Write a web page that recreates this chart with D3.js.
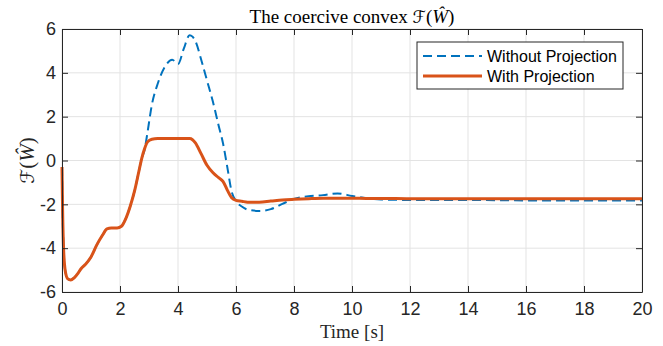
<!DOCTYPE html>
<html>
<head>
<meta charset="utf-8">
<script src="https://cdn.jsdelivr.net/npm/d3@7"></script>
<style>
  body { margin: 0; background: #fff; }
  svg { display: block; }
</style>
</head>
<body>
<div id="chart"></div>
<script>
// time samples [s]
const time = [0, 0.02, 0.06, 0.12, 0.2, 0.3, 0.42, 0.55, 0.65, 0.8, 1.0, 1.2, 1.4, 1.55, 1.7, 1.9,
  2.05, 2.2, 2.35, 2.5, 2.65, 2.75, 2.85, 2.95, 3.1, 3.3, 3.55, 3.8, 4.0, 4.2, 4.4, 4.5, 4.6,
  4.8, 5.0, 5.2, 5.4, 5.55, 5.7, 5.85, 6.0, 6.2, 6.4, 6.8, 7.2, 7.6, 8.0, 8.5, 9.0, 9.5, 10.0,
  10.5, 11, 12, 14, 16, 18, 20];

const withoutProjection = [-0.3, -2.2, -4.2, -5.1, -5.4, -5.45, -5.35, -5.15, -4.95, -4.75, -4.4,
  -3.85, -3.4, -3.12, -3.08, -3.08, -3.0, -2.65, -2.1, -1.4, -0.5, 0.1, 0.5, 1.3, 2.55, 3.5, 4.28,
  4.6, 4.4, 5.1, 5.72, 5.65, 5.45, 4.6, 3.65, 2.7, 1.6, 0.8, -0.3, -1.42, -1.85, -2.1, -2.24, -2.3,
  -2.22, -1.98, -1.75, -1.63, -1.58, -1.5, -1.62, -1.72, -1.78, -1.8, -1.8, -1.82, -1.82, -1.82];

const withProjection = [-0.3, -2.2, -4.2, -5.1, -5.4, -5.45, -5.35, -5.15, -4.95, -4.75, -4.4,
  -3.85, -3.4, -3.12, -3.08, -3.08, -3.0, -2.65, -2.1, -1.4, -0.5, 0.1, 0.55, 0.85, 0.97, 1.0, 1.0,
  1.0, 1.0, 1.0, 1.0, 0.95, 0.8, 0.3, -0.22, -0.55, -0.78, -0.95, -1.35, -1.7, -1.82, -1.86, -1.9,
  -1.9, -1.85, -1.8, -1.77, -1.74, -1.72, -1.72, -1.72, -1.73, -1.73, -1.74, -1.74, -1.75, -1.75, -1.75];

const xTicks = [0, 2, 4, 6, 8, 10, 12, 14, 16, 18, 20];
const yTicks = [-6, -4, -2, 0, 2, 4, 6];
const seriesNames = ["Without Projection", "With Projection"];

const width = 663, height = 346;
const margin = { top: 29, left: 62, bottom: 54, right: 21 };
const innerW = width - margin.left - margin.right;
const innerH = height - margin.top - margin.bottom;

const axisColor = "#262626";
const gridColor = "#e3e3e3";
const blue = "#0072BD", red = "#D95319";

const svg = d3.select("#chart").append("svg")
  .attr("width", width)
  .attr("height", height);

const g = svg.append("g")
  .attr("transform", `translate(${margin.left}, ${margin.top})`);

const xScale = d3.scaleLinear().domain([0, 20]).range([0, innerW]);
const yScale = d3.scaleLinear().domain([-6, 6]).range([innerH, 0]);

// grid
g.append("g").selectAll("line").data(xTicks).enter().append("line")
  .attr("x1", d => xScale(d)).attr("x2", d => xScale(d))
  .attr("y1", 0).attr("y2", innerH)
  .attr("stroke", gridColor).attr("stroke-width", 1);

g.append("g").selectAll("line").data(yTicks).enter().append("line")
  .attr("x1", 0).attr("x2", innerW)
  .attr("y1", d => yScale(d)).attr("y2", d => yScale(d))
  .attr("stroke", gridColor).attr("stroke-width", 1);

// curves
const points = (vals) => time.map((t, i) => [t, vals[i]]);
const line = d3.line()
  .x(d => xScale(d[0]))
  .y(d => yScale(d[1]))
  .curve(d3.curveMonotoneX);

g.append("path")
  .datum(points(withoutProjection))
  .attr("fill", "none")
  .attr("stroke", blue)
  .attr("stroke-width", 2)
  .attr("stroke-dasharray", "9,5")
  .attr("d", line);

g.append("path")
  .datum(points(withProjection))
  .attr("fill", "none")
  .attr("stroke", red)
  .attr("stroke-width", 3)
  .attr("stroke-linejoin", "round")
  .attr("d", line);

// axes (box with inward ticks)
const xAxis = g.append("g")
  .attr("transform", `translate(0, ${innerH})`)
  .call(d3.axisBottom(xScale).tickValues(xTicks).tickSizeInner(-6).tickSizeOuter(0).tickPadding(10));
const yAxis = g.append("g")
  .call(d3.axisLeft(yScale).tickValues(yTicks).tickSizeInner(-6).tickSizeOuter(0).tickPadding(6)
    .tickFormat(d => d < 0 ? "-" + Math.abs(d) : d));
const xTop = g.append("g")
  .call(d3.axisTop(xScale).tickValues(xTicks).tickSizeInner(-6).tickSizeOuter(0).tickFormat(""));
const yRight = g.append("g")
  .attr("transform", `translate(${innerW}, 0)`)
  .call(d3.axisRight(yScale).tickValues(yTicks).tickSizeInner(-6).tickSizeOuter(0).tickFormat(""));

[xAxis, yAxis, xTop, yRight].forEach(a => {
  a.selectAll("path").attr("stroke", axisColor).attr("stroke-width", 1);
  a.selectAll("line").attr("stroke", axisColor).attr("stroke-width", 1);
  a.selectAll("text")
    .attr("fill", axisColor)
    .style("font-family", "'Liberation Sans', Arial, sans-serif")
    .style("font-size", "18px");
});

// title
const title = svg.append("text")
  .attr("x", margin.left + innerW / 2)
  .attr("y", 23)
  .attr("text-anchor", "middle")
  .style("font-family", "'Liberation Serif', 'DejaVu Serif', serif")
  .style("font-size", "19px")
  .attr("fill", "#000");
title.append("tspan").text("The coercive convex ");
title.append("tspan").style("font-family", "'DejaVu Sans', serif").style("font-size", "17px").text("\u2131");
title.append("tspan").text("(");
title.append("tspan").style("font-style", "italic").text("\u0174");
title.append("tspan").text(")");

// x label
svg.append("text")
  .attr("x", margin.left + innerW / 2)
  .attr("y", 338)
  .attr("text-anchor", "middle")
  .style("font-family", "'Liberation Serif', 'DejaVu Serif', serif")
  .style("font-size", "19px")
  .attr("fill", axisColor)
  .text("Time [s]");

// y label
const yLabel = svg.append("text")
  .attr("transform", `translate(34, ${margin.top + innerH / 2}) rotate(-90)`)
  .attr("text-anchor", "middle")
  .style("font-family", "'Liberation Serif', 'DejaVu Serif', serif")
  .style("font-size", "21px")
  .attr("fill", axisColor);
yLabel.append("tspan").style("font-family", "'DejaVu Sans', serif").style("font-size", "19px").text("\u2131");
yLabel.append("tspan").text("(");
yLabel.append("tspan").style("font-style", "italic").text("\u0174");
yLabel.append("tspan").text(")");

// legend
const legend = svg.append("g").attr("transform", "translate(417, 42)");
legend.append("rect")
  .attr("width", 206).attr("height", 47)
  .attr("fill", "#fff")
  .attr("stroke", axisColor).attr("stroke-width", 1);

const legendItems = legend.selectAll("g.item")
  .data(seriesNames).enter().append("g")
  .attr("class", "item")
  .attr("transform", (d, i) => `translate(0, ${14 + i * 20})`);

legendItems.append("line")
  .attr("x1", 6).attr("x2", 65)
  .attr("stroke", (d, i) => i === 0 ? blue : red)
  .attr("stroke-width", (d, i) => i === 0 ? 2 : 3)
  .attr("stroke-dasharray", (d, i) => i === 0 ? "9,5" : null);

legendItems.append("text")
  .attr("x", 70)
  .attr("y", 5.5)
  .style("font-family", "'Liberation Sans', Arial, sans-serif")
  .style("font-size", "16px")
  .attr("fill", "#000")
  .text(d => d);
</script>
</body>
</html>
